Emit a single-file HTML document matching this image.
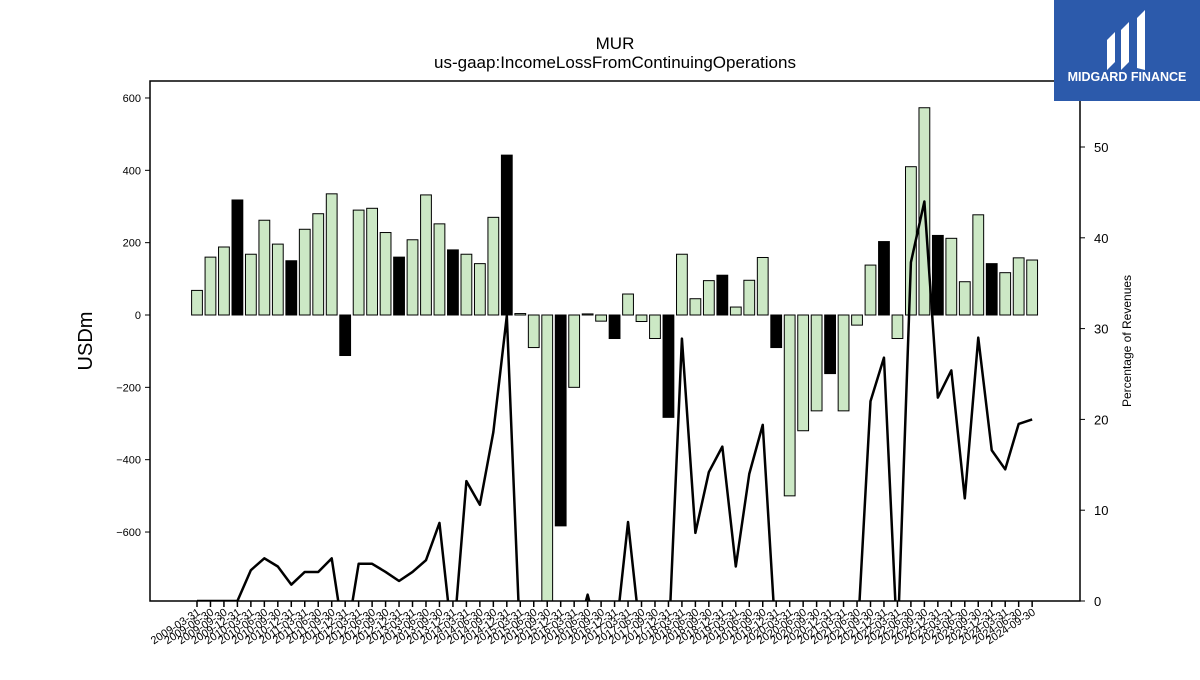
<!DOCTYPE html>
<html><head><meta charset="utf-8"><style>
body{margin:0;background:#fff;width:1200px;height:675px;overflow:hidden;font-family:"Liberation Sans","DejaVu Sans",sans-serif}
</style></head><body>
<svg id="chart" width="1200" height="675" xmlns="http://www.w3.org/2000/svg" font-family="Liberation Sans, DejaVu Sans, sans-serif">
<defs><clipPath id="plotclip"><rect x="150" y="81" width="930" height="520"/></clipPath></defs>
<text x="615" y="49" font-size="17" text-anchor="middle">MUR</text>
<text x="615" y="68" font-size="17" text-anchor="middle">us-gaap:IncomeLossFromContinuingOperations</text>
<g id="bars" clip-path="url(#plotclip)"></g>
<g id="line" clip-path="url(#plotclip)"></g>
<rect x="150" y="81" width="930" height="520" fill="none" stroke="#000" stroke-width="1.5"/>
<g id="axes"></g>
<text transform="translate(92,341) rotate(-90)" font-size="20" text-anchor="middle">USDm</text>
<text transform="translate(1131,341) rotate(-90)" font-size="12" text-anchor="middle">Percentage of Revenues</text>
<g>
<rect x="1054" y="0" width="146" height="101" fill="#2c5aab"/>
<path d="M1107 40 l8 -8 v30 l-8 8 z M1121 30 l8 -8 v40 l-8 8 z M1137 18 l8 -8 v60 l-8 -2 z" fill="#fff"/>
<text x="1127" y="81" font-size="12.5" font-weight="bold" fill="#fff" text-anchor="middle">MIDGARD FINANCE</text>
</g>
</svg>
<script>
const categories=["2009-03-31","2009-06-30","2009-09-30","2009-12-31","2010-03-31","2010-06-30","2010-09-30","2010-12-31","2011-03-31","2011-06-30","2011-09-30","2011-12-31","2012-03-31","2012-06-30","2012-09-30","2012-12-31","2013-03-31","2013-06-30","2013-09-30","2013-12-31","2014-03-31","2014-06-30","2014-09-30","2014-12-31","2015-03-31","2015-06-30","2015-09-30","2015-12-31","2016-03-31","2016-06-30","2016-09-30","2016-12-31","2017-03-31","2017-06-30","2017-09-30","2017-12-31","2018-03-31","2018-06-30","2018-09-30","2018-12-31","2019-03-31","2019-06-30","2019-09-30","2019-12-31","2020-03-31","2020-06-30","2020-09-30","2020-12-31","2021-03-31","2021-06-30","2021-09-30","2021-12-31","2022-03-31","2022-06-30","2022-09-30","2022-12-31","2023-03-31","2023-06-30","2023-09-30","2023-12-31","2024-03-31","2024-06-30","2024-09-30"];
const incomeValues=[68,160,188,318,168,262,196,150,237,280,335,-112,290,295,228,160,208,332,252,180,168,142,270,442,4,-90,-900,-583,-200,3,-17,-65,58,-18,-65,-283,168,45,95,110,22,96,159,-90,-500,-320,-265,-162,-265,-28,138,203,-65,410,573,220,212,92,277,142,117,158,152];
const pctValues=[0,0,0,0,3.4,4.7,3.8,1.8,3.2,3.2,4.7,-5,4.1,4.1,3.2,2.2,3.2,4.5,8.6,-5,13.2,10.6,18.6,31.4,-5,-5,-5,-5,-5,0.7,-5,-5,8.7,-5,-5,-5,28.9,7.5,14.2,17,3.8,14,19.4,-5,-5,-5,-5,-5,-5,-5,22,26.8,-5,37.3,44,22.4,25.4,11.3,29,16.6,14.5,19.5,20];
const leftTicks=[-600,-400,-200,0,200,400,600];
const rightTicks=[0,10,20,30,40,50];
const NS="http://www.w3.org/2000/svg";
const x=i=>197+i*13.47;
const yL=v=>315-v*0.3617;
const yR=v=>601-v*9.08;
function mk(t,a,p){const e=document.createElementNS(NS,t);for(const k in a)e.setAttribute(k,a[k]);p.appendChild(e);return e;}
const bars=document.getElementById('bars'),line=document.getElementById('line'),axes=document.getElementById('axes');
incomeValues.forEach((v,i)=>{
 const q4=categories[i].endsWith('12-31');
 const y0=yL(0),y1=yL(v);
 const r=mk('rect',{x:x(i)-5.4,y:Math.min(y0,y1),width:10.8,height:Math.abs(y1-y0),fill:q4?'#000':'#cce8c5',stroke:'#000','stroke-width':1},bars);
 
 
});
const pl=mk('polyline',{points:pctValues.map((v,i)=>x(i)+','+yR(v)).join(' '),fill:'none',stroke:'#000','stroke-width':2.5,'stroke-linejoin':'round'},line);


leftTicks.forEach(v=>{
 mk('line',{x1:145,x2:150,y1:yL(v),y2:yL(v),stroke:'#000'},axes);
 const t=mk('text',{x:141,y:yL(v)+4,'font-size':11,'text-anchor':'end'},axes);
 t.textContent=v<0?'\u2212'+(-v):v;
 
 
});
rightTicks.forEach(v=>{
 mk('line',{x1:1080,x2:1085,y1:yR(v),y2:yR(v),stroke:'#000'},axes);
 const t=mk('text',{x:1094,y:yR(v)+5,'font-size':13},axes);
 t.textContent=v;
 
 
});
categories.forEach((c,i)=>{
 mk('line',{x1:x(i),x2:x(i),y1:601,y2:607,stroke:'#000','stroke-width':1.5},axes);
 const t=mk('text',{transform:`translate(${x(i)+4},${614}) rotate(-33)`,'font-size':11,'text-anchor':'end'},axes);
 t.textContent=c;
 
 
});
</script>
</body></html>
